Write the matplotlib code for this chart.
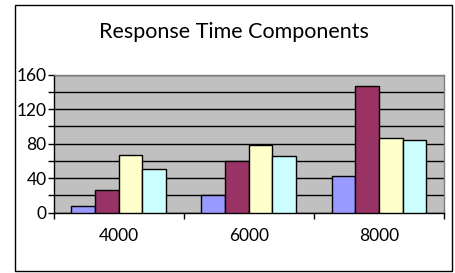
import numpy as np
import matplotlib
matplotlib.use("Agg")
import matplotlib.pyplot as plt
from matplotlib.patches import Rectangle
from matplotlib.ticker import MultipleLocator

# datos
categorias = ["4000", "6000", "8000"]
serie_1 = [8, 21, 42]
serie_2 = [26, 60, 147]
serie_3 = [67, 78, 87]
serie_4 = [51, 66, 84]
series = [serie_1, serie_2, serie_3, serie_4]
colores = ["#9999FF", "#993366", "#FFFFCC", "#CCFFFF"]

plt.rcParams["font.family"] = ["Lato", "DejaVu Sans"]

fig = plt.figure(figsize=(4.55, 2.73), dpi=100)
ax = fig.add_axes([0.1176, 0.2209, 0.9758 - 0.1176, 0.7264 - 0.2209])

x = np.arange(len(categorias))
ancho = 0.182
for i, (vals, col) in enumerate(zip(series, colores)):
    ax.bar(x + (i - 1.5) * ancho, vals, ancho, color=col, edgecolor="black",
           linewidth=1.0, zorder=3)

ax.set_facecolor("#C0C0C0")
ax.set_xlim(-0.5, len(categorias) - 0.5)
ax.set_ylim(0, 160)
ax.yaxis.set_major_locator(MultipleLocator(40))
ax.yaxis.set_minor_locator(MultipleLocator(20))
ax.grid(axis="y", which="both", color="black", linewidth=1.0, zorder=1)

ax.set_xticks(x)
ax.set_xticklabels(categorias, fontsize=12.5)
ax.set_xticks(np.arange(len(categorias) + 1) - 0.5, minor=True)
ax.tick_params(axis="x", which="major", length=0, pad=11)
ax.tick_params(axis="x", which="minor", length=4, width=1, direction="out")
ax.tick_params(axis="y", which="both", length=4, width=1, labelsize=12.5, pad=1)

for lado in ["top", "right"]:
    ax.spines[lado].set_color("#808080")
    ax.spines[lado].set_linewidth(1.0)
for lado in ["left", "bottom"]:
    ax.spines[lado].set_color("black")
    ax.spines[lado].set_linewidth(1.0)

fig.text(0.514, 0.883, "Response Time Components", ha="center", va="center",
         fontsize=15.5)

# marco exterior
fig.patches.append(Rectangle((0.0323, 0.0073), 0.9618, 0.974, transform=fig.transFigure,
                             fill=False, edgecolor="black", linewidth=1.0))

fig.savefig("out.png", dpi=100)
